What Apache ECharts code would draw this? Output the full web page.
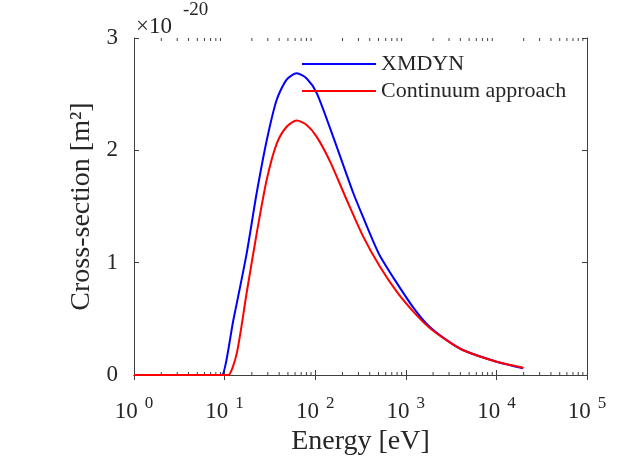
<!DOCTYPE html>
<html>
<head>
<meta charset="utf-8">
<script src="https://cdn.jsdelivr.net/npm/echarts@6/dist/echarts.min.js"></script>
<style>html,body{margin:0;padding:0;background:#fff}#c{width:619px;height:462px}</style>
</head>
<body>
<div id="c"></div>
<script>
// ---- data (cross-section in units of 1e-20 m^2) ----
const xmdynEnergy = [1, 5, 8.5, 9.3, 12.5, 17.5, 22.6, 29.2, 37.6, 48.4, 62.5, 80.5, 104, 158, 263, 340, 437, 519, 794, 1211, 1770, 2818, 4315, 10070, 19800];
const xmdynValue  = [0, 0, 0, 0, 0.49, 1.08, 1.62, 2.09, 2.45, 2.63, 2.686, 2.64, 2.51, 2.12, 1.62, 1.40, 1.19, 1.06, 0.82, 0.60, 0.44, 0.31, 0.22, 0.118, 0.06];
const contEnergy  = [1, 5, 10, 11, 13.6, 17.5, 22.6, 29.2, 37.6, 48.4, 62.5, 80.5, 104, 146, 223, 340, 519, 794, 1211, 1770, 2818, 4315, 10070, 19800];
const contValue   = [0, 0, 0, 0, 0.19, 0.73, 1.26, 1.74, 2.06, 2.21, 2.265, 2.226, 2.12, 1.90, 1.558, 1.23, 0.964, 0.742, 0.564, 0.43, 0.31, 0.22, 0.118, 0.065];
const seriesNames = ['XMDYN', 'Continuum approach'];
const xMin = 1, xMax = 100000;
const yMin = 0, yMax = 3, yStep = 1;
const yScaleText = ['\u00d710', '-20'];
const xTitle = 'Energy [eV]';
const yTitle = 'Cross-section [m\u00b2]';
const minorTickValues = [];
for (let d = 0; d < 5; d++) for (let m = 2; m <= 9; m++) minorTickValues.push(m * Math.pow(10, d));

const FONT = '"Liberation Serif", "DejaVu Serif", serif';
const TXT = '#262626';
const AX = '#404040';

const chart = echarts.init(document.getElementById('c'), null, {renderer: 'canvas'});
const pairs = (xs, ys) => xs.map((x, i) => [x, ys[i]]);

const option = {
  animation: false,
  backgroundColor: '#fff',
  textStyle: {fontFamily: FONT, color: TXT},
  grid: {left: 134, right: 32, top: 38, bottom: 87, containLabel: false},
  legend: {
    data: seriesNames,
    orient: 'vertical',
    left: 302, top: 53, padding: 0,
    icon: 'rect', itemWidth: 74, itemHeight: 2, itemGap: 5,
    textStyle: {fontFamily: FONT, fontSize: 22, color: TXT}
  },
  xAxis: [{
    type: 'log', logBase: 10, min: xMin, max: xMax,
    position: 'bottom',
    name: xTitle, nameLocation: 'middle', nameGap: 52,
    nameTextStyle: {fontFamily: FONT, fontSize: 28, color: TXT},
    axisLine: {show: true, lineStyle: {color: AX, width: 1}},
    axisTick: {show: true, inside: true, length: 5, lineStyle: {color: AX}},
    splitLine: {show: false},
    axisLabel: {
      margin: 20,
      formatter: v => '{b|10}{s|' + Math.round(Math.log10(v)) + '}',
      rich: {
        b: {fontFamily: FONT, fontSize: 23, color: TXT, lineHeight: 28, verticalAlign: 'bottom'},
        s: {fontFamily: FONT, fontSize: 17, color: TXT, lineHeight: 9, verticalAlign: 'top', padding: [0, 0, 0, 7]}
      }
    }
  }, {
    type: 'log', logBase: 10, min: xMin, max: xMax,
    position: 'top',
    axisLine: {show: true, lineStyle: {color: AX, width: 1}},
    axisTick: {show: true, inside: true, length: 5, lineStyle: {color: AX}},
    axisLabel: {show: false},
    splitLine: {show: false}
  }],
  yAxis: [{
    type: 'value', min: yMin, max: yMax, interval: yStep,
    position: 'left',
    name: yTitle, nameLocation: 'middle', nameGap: 32, nameRotate: 90,
    nameTextStyle: {fontFamily: FONT, fontSize: 28, color: TXT},
    axisLine: {show: true, lineStyle: {color: AX, width: 1}},
    axisTick: {show: true, inside: true, length: 5, lineStyle: {color: AX}},
    axisLabel: {margin: 16, fontFamily: FONT, fontSize: 23, color: TXT},
    splitLine: {show: false}
  }, {
    type: 'value', min: yMin, max: yMax, interval: yStep,
    position: 'right',
    axisLine: {show: true, lineStyle: {color: AX, width: 1}},
    axisTick: {show: true, inside: true, length: 5, lineStyle: {color: AX}},
    axisLabel: {show: false},
    splitLine: {show: false}
  }],
  graphic: [
    {type: 'text', left: 136, top: 15, style: {text: yScaleText[0], fontFamily: FONT, fontSize: 23, fill: TXT}},
    {type: 'text', left: 183, top: 1, style: {text: yScaleText[1], fontFamily: FONT, fontSize: 19, fill: TXT}}
  ],
  series: [
    {
      name: seriesNames[0], type: 'line', data: pairs(xmdynEnergy, xmdynValue),
      showSymbol: false, smooth: 0.25,
      lineStyle: {color: '#0000ff', width: 2}, itemStyle: {color: '#0000ff'}, z: 3
    },
    {
      name: seriesNames[1], type: 'line', data: pairs(contEnergy, contValue),
      showSymbol: false, smooth: 0.25,
      lineStyle: {color: '#ff0000', width: 2}, itemStyle: {color: '#ff0000'}, z: 4
    },
    {
      name: 'minorTicks', type: 'custom', silent: true, z: 1,
      data: minorTickValues.map(v => [v, yMin]),
      encode: {x: 0, y: 1},
      renderItem: (params, api) => {
        const pb = api.coord([api.value(0), yMin]);
        const pt = api.coord([api.value(0), yMax]);
        const st = {stroke: AX, lineWidth: 1};
        return {type: 'group', children: [
          {type: 'line', shape: {x1: pb[0], y1: pb[1], x2: pb[0], y2: pb[1] - 3}, style: st},
          {type: 'line', shape: {x1: pt[0], y1: pt[1], x2: pt[0], y2: pt[1] + 3}, style: st}
        ]};
      }
    }
  ]
};
chart.setOption(option);
</script>
</body>
</html>
